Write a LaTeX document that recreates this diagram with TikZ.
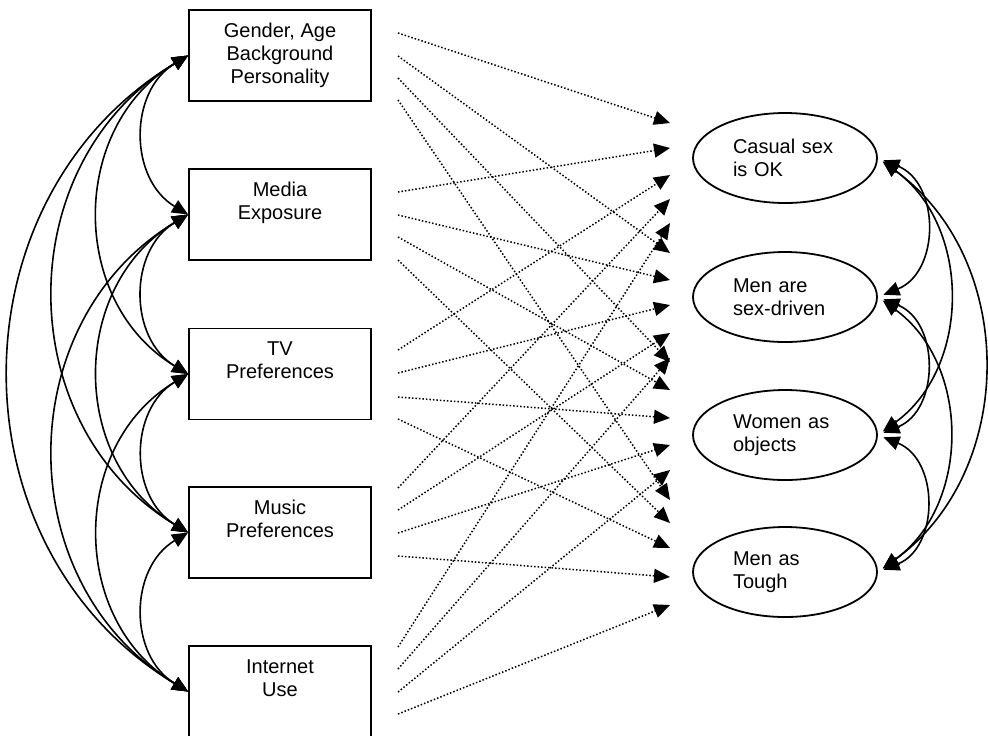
\documentclass[tikz,border=0pt]{standalone}
\usepackage{fontspec}
\setmainfont{Liberation Sans}
\usetikzlibrary{arrows.meta,shapes.geometric}

\tikzset{
  varbox/.style={draw, line width=0.9pt, minimum width=91pt, minimum height=45.5pt,
    inner sep=0pt, align=center, font=\fontsize{10}{11.5}\selectfont},
  attitude/.style={draw, ellipse, line width=0.9pt, minimum width=92pt, minimum height=45pt,
    inner sep=0pt, text width=52pt, align=left, font=\fontsize{10}{11.5}\selectfont},
  corr/.style={{Triangle[length=8pt,width=7pt]}-{Triangle[length=8pt,width=7pt]}, line width=0.8pt},
  effect/.style={-{Triangle[length=8pt,width=7pt]}, line width=0.75pt, dash pattern=on 0.75pt off 1pt}
}

\begin{document}
\begin{tikzpicture}[x=0.5pt,y=0.5pt]
\useasboundingbox (0,0) rectangle (988,-735);

%Predictors
\node[varbox] (gen) at (280,-55.5) {Gender, Age\\Background\\Personality};
\node[varbox] (media) at (280,-214.5) {Media\\Exposure\\\vphantom{y}};
\node[varbox] (tv) at (280,-374) {TV\\Preferences\\\vphantom{y}};
\node[varbox] (music) at (280,-532.5) {Music\\Preferences\\\vphantom{y}};
\node[varbox] (net) at (280,-691.5) {Internet\\Use\\\vphantom{y}};

%Attitudes
\node[attitude] (casual) at (785,-158) {Casual sex\\is OK};
\node[attitude] (sexdrv) at (785,-297) {Men are\\sex-driven};
\node[attitude] (objects) at (785,-435) {Women as\\objects};
\node[attitude] (tough) at (785,-572) {Men as\\Tough};

%Correlations among predictors
\foreach \a/\b in {gen/media, gen/tv, gen/music, gen/net, media/tv, media/music, media/net, tv/music, tv/net, music/net}
  \draw[corr] (\a.west) to[out=211,in=149,looseness=1.12] (\b.west);

%Correlations among attitudes
\foreach \a/\b in {casual/sexdrv, sexdrv/objects, objects/tough}
  \draw[corr,shorten <=3pt,shorten >=3pt] (\a.east) to[out=-22,in=22,looseness=1.24] (\b.east);
\foreach \a/\b in {casual/objects, casual/tough, sexdrv/tough}
  \draw[corr,shorten <=3pt,shorten >=3pt] (\a.east) to[out=-36,in=36,looseness=1.07] (\b.east);

%Paths from predictors to attitudes
\foreach \sy/\ty [count=\k] in {33/123, 56/253, 78/362, 100/500,
    192/148, 215/280, 237/390, 260/523,
    350/175, 373/305, 397/418, 419/548,
    488/199, 510/333, 533/445, 556/577,
    647/223, 669/358, 692/470, 714/605}
{
  \coordinate (from\k) at (398,-\sy);
  \coordinate (to\k) at (670,-\ty);
  \draw[effect] (from\k) -- (to\k);
}
\end{tikzpicture}
\end{document}
